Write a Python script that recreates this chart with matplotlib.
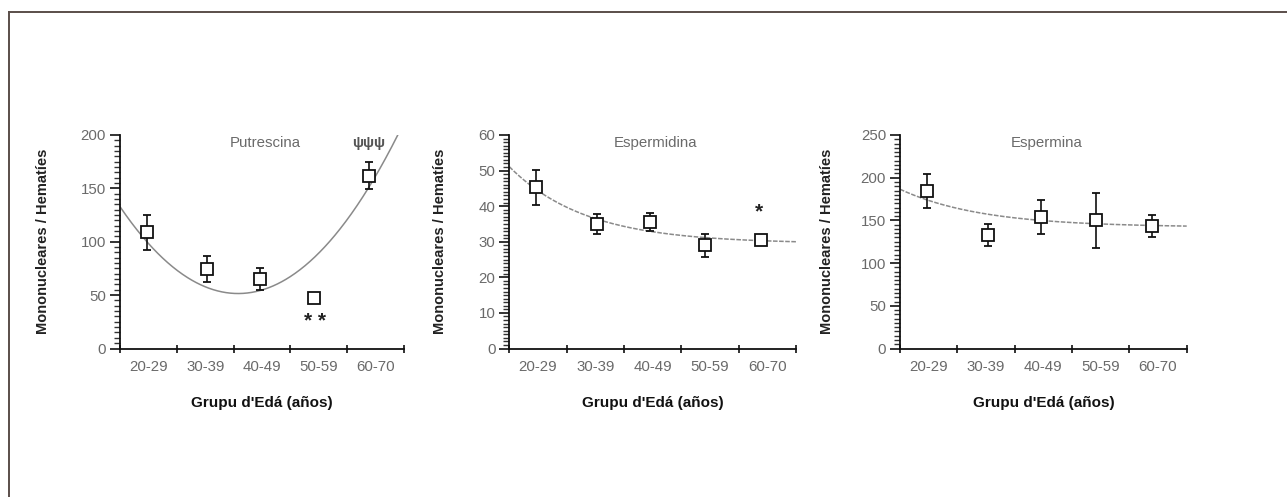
import numpy as np
import matplotlib
matplotlib.use("Agg")
import matplotlib.pyplot as plt
from matplotlib.lines import Line2D
from matplotlib.ticker import MultipleLocator, FixedLocator, NullFormatter, FixedFormatter

plt.rcParams['font.family'] = ['Liberation Sans', 'DejaVu Sans']

# ---------------- data ----------------
categories = ["20-29", "30-39", "40-49", "50-59", "60-70"]
group_age = [24.7, 35.3, 44.6, 54.2, 63.9]

putrescina = [108.7, 74.3, 65.0, 47.5, 162.0]
putrescina_err = [16.7, 12.0, 10.6, 3.0, 13.0]

espermidina = [45.3, 35.0, 35.5, 29.0, 30.5]
espermidina_err = [5.0, 2.8, 2.5, 3.3, 1.2]

espermina = [184.0, 133.0, 154.0, 150.0, 143.5]
espermina_err = [20.0, 13.0, 20.0, 32.0, 12.5]

# fitted curves
fit_putrescina = (0.188, 40.8, 51.5)      # a, vertex x, vertex y
fit_espermidina = (29.5, 21.6, 0.075)     # plateau, amplitude, rate
fit_espermina = (142.0, 44.5, 0.07)

W, H = 1287, 497
fig = plt.figure(figsize=(W / 100, H / 100), dpi=100)

# border (top and left only)
fig.add_artist(Line2D([8.7 / W, 1], [1 - 12.3 / H, 1 - 12.3 / H], transform=fig.transFigure,
                      color="#5a4e4a", lw=1.4))
fig.add_artist(Line2D([8.7 / W, 8.7 / W], [0, 1 - 12.3 / H], transform=fig.transFigure,
                      color="#5a4e4a", lw=1.4))

panels = [
    dict(left=120, right=404, ymax=200, major=50, minor=5, title="Putrescina",
         vals=putrescina, err=putrescina_err, ylab_x=50),
    dict(left=509.3, right=796, ymax=60, major=10, minor=1, title="Espermidina",
         vals=espermidina, err=espermidina_err, ylab_x=447),
    dict(left=900, right=1186.7, ymax=250, major=50, minor=5, title="Espermina",
         vals=espermina, err=espermina_err, ylab_x=834),
]

bottom_px, top_px = 348.5, 135.0
axes = []
for i, p in enumerate(panels):
    ax = fig.add_axes([p['left'] / W, 1 - bottom_px / H, (p['right'] - p['left']) / W,
                       (bottom_px - top_px) / H])
    axes.append(ax)
    ax.set_xlim(20, 70)
    ax.set_ylim(0, p['ymax'])
    for s in ['top', 'right']:
        ax.spines[s].set_visible(False)
    for s in ['left', 'bottom']:
        ax.spines[s].set_linewidth(1.3)
        ax.spines[s].set_color('#111111')

    # y ticks
    ax.yaxis.set_major_locator(MultipleLocator(p['major']))
    ax.yaxis.set_minor_locator(MultipleLocator(p['minor']))
    ax.tick_params(axis='y', which='major', direction='out', length=7, width=1.2,
                   color='#111111', labelsize=10.8, labelcolor='#6a6a6a', pad=3)
    ax.tick_params(axis='y', which='minor', direction='out', length=4, width=1.0,
                   color='#333333')

    # x ticks: boundaries as major (unlabeled), labels at centers
    ax.xaxis.set_major_locator(FixedLocator([20, 30, 40, 50, 60, 70]))
    ax.xaxis.set_major_formatter(NullFormatter())
    ax.xaxis.set_minor_locator(FixedLocator([25, 35, 45, 55, 65]))
    ax.xaxis.set_minor_formatter(FixedFormatter(categories))
    ax.tick_params(axis='x', which='major', direction='inout', length=6, width=1.2,
                   color='#111111')
    ax.tick_params(axis='x', which='minor', length=0, labelsize=10.8,
                   labelcolor='#6a6a6a', pad=8)

    ax.set_xlabel("Grupu d'Edá (años)", fontsize=11, fontweight='bold', color='#111111',
                  labelpad=16)
    ax.set_ylabel("Mononucleares / Hematíes", fontsize=10.5, fontweight='bold',
                  color='#222222')
    ax.yaxis.set_label_coords((p['ylab_x'] - p['left']) / (p['right'] - p['left']), 0.5)

    ax.text(0.51, 0.962, p['title'], transform=ax.transAxes, ha='center', va='center',
            fontsize=10.8, color='#6a6a6a')

    ax.errorbar(group_age, p['vals'], yerr=p['err'], fmt='s', ms=8.5, mfc='white',
                mec='#111111', mew=1.3, ecolor='#111111', elinewidth=1.2, capsize=3,
                capthick=1.2, zorder=3, clip_on=False)

xs = np.linspace(20, 70, 400)
a, h, k = fit_putrescina
axes[0].plot(xs, a * (xs - h) ** 2 + k, color='#8a8a8a', lw=1.1, zorder=2)
c, A, r = fit_espermidina
axes[1].plot(xs, c + A * np.exp(-r * (xs - 20)), color='#8a8a8a', lw=1.1,
             ls=(0, (3, 1)), zorder=2)
c, A, r = fit_espermina
axes[2].plot(xs, c + A * np.exp(-r * (xs - 20)), color='#8a8a8a', lw=1.1,
             ls=(0, (3, 1)), zorder=2)

# significance marks
axes[0].text(63.7, 192.7, "ψψψ", ha='center', va='center', fontsize=10.5,
             fontweight='bold', color='#555555')
axes[0].text(54.3, 25, "* *", ha='center', va='center', fontsize=15,
             fontweight='bold', color='#222222')
axes[1].text(63.6, 38.5, "*", ha='center', va='center', fontsize=15,
             fontweight='bold', color='#222222')

fig.savefig("out.png", dpi=100)
